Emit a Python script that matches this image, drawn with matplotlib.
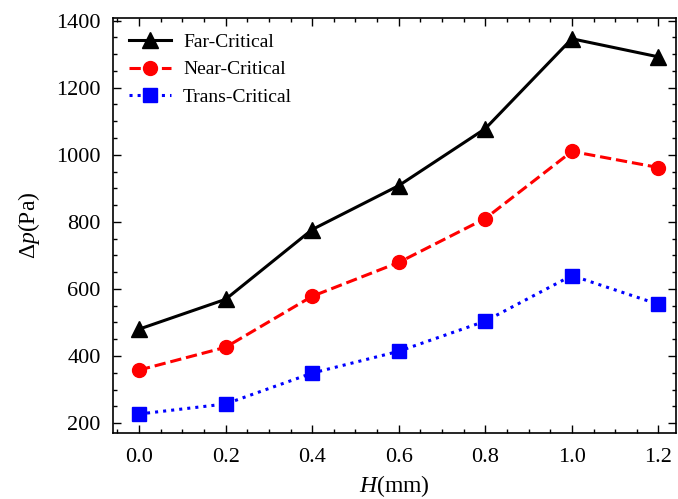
import matplotlib
matplotlib.use("Agg")
import matplotlib.pyplot as plt
from matplotlib.ticker import MultipleLocator

plt.rcParams['font.family'] = ['Liberation Serif', 'DejaVu Serif']
plt.rcParams['mathtext.fontset'] = 'custom'
plt.rcParams['mathtext.rm'] = 'Liberation Serif'
plt.rcParams['mathtext.it'] = 'Liberation Serif:italic'

H = [0.0, 0.2, 0.4, 0.6, 0.8, 1.0, 1.2]
far = [480, 569, 777, 908, 1078, 1346, 1292]
near = [358, 426, 578, 679, 810, 1010, 962]
trans = [227, 257, 349, 414, 504, 640, 554]

fig = plt.figure(figsize=(6.78, 4.99), dpi=100)
ax = fig.add_axes([0.1667, 0.132, 0.830, 0.832])

ax.plot(H, far, '-', color='black', marker='^', markersize=11, lw=2.2, label='Far-Critical')
ax.plot(H, near, '--', color='red', marker='o', markersize=10, lw=2.2, label='Near-Critical')
ax.plot(H, trans, ':', color='blue', marker='s', markersize=10, lw=2.2, label='Trans-Critical')

ax.set_xlim(-0.06, 1.24)
ax.set_ylim(170, 1408)
ax.xaxis.set_major_locator(MultipleLocator(0.2))
ax.xaxis.set_minor_locator(MultipleLocator(0.05))
ax.yaxis.set_major_locator(MultipleLocator(200))
ax.yaxis.set_minor_locator(MultipleLocator(50))
ax.tick_params(which='both', direction='in', top=True, right=True, labelsize=16)
ax.tick_params(which='major', length=6, width=1)
ax.tick_params(which='minor', length=3, width=1)
ax.tick_params(axis='x', which='major', pad=11)
ax.tick_params(axis='y', which='major', pad=9)
for s in ax.spines.values():
    s.set_linewidth(1.2)

ax.set_xlabel(r'$H$(mm)', fontsize=17, labelpad=4)
ax.set_ylabel(r'$\Delta p$(Pa)', fontsize=17, labelpad=10)
ax.legend(loc='upper left', frameon=False, fontsize=14, handlelength=2.2,
          labelspacing=0.5, handletextpad=0.6, borderaxespad=0.4)

fig.savefig('out.png', dpi=100)
